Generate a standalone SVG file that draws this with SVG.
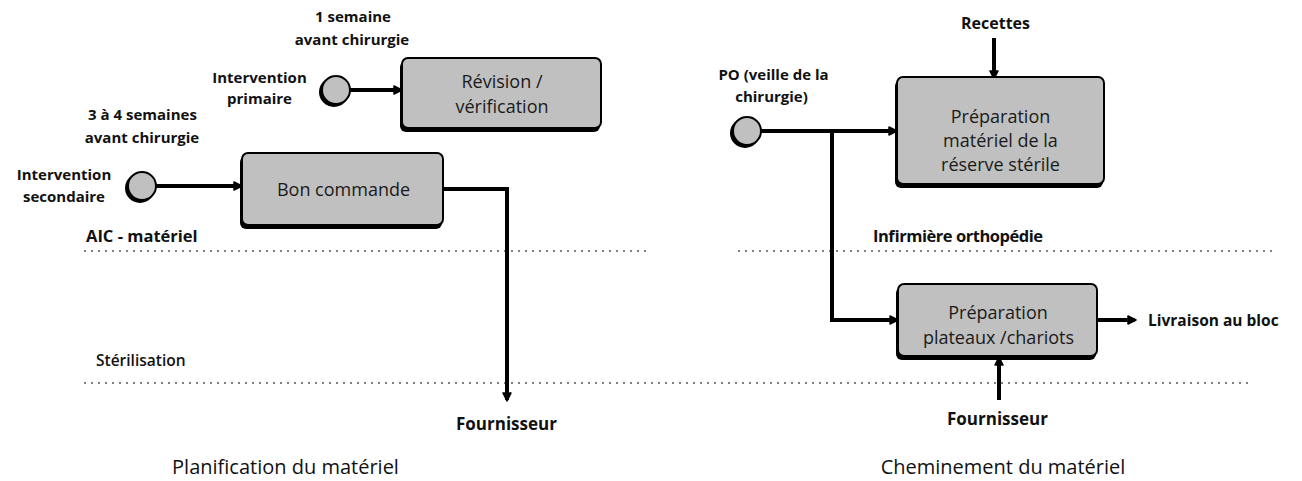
<svg xmlns="http://www.w3.org/2000/svg" width="1302" height="481" viewBox="0 0 1302 481">
  <style>
    .lbl { font-family: "Open Sans", "Liberation Sans", sans-serif; font-weight: bold; font-size: 15px; fill: #111; }
    .lane-lbl { font-family: "Open Sans", "Liberation Sans", sans-serif; font-weight: bold; font-size: 16.5px; fill: #111; }
    .box-txt { font-family: "Open Sans", "Liberation Sans", sans-serif; font-size: 18px; fill: #1a1a1a; }
    .title { font-family: "Open Sans", "Liberation Sans", sans-serif; font-size: 20px; fill: #111; }
    .box { fill: #c0c0c0; stroke: #000; stroke-width: 2; }
    .shadow { fill: #000; }
    .lane { stroke: #555; stroke-width: 1.5; stroke-dasharray: 2 5; fill: none; }
    .flow { stroke: #000; stroke-width: 4; fill: none; marker-end: url(#head); }
  </style>
  <defs>
    <marker id="head" viewBox="0 0 10 10" refX="8" refY="5" markerWidth="10" markerHeight="10" markerUnits="userSpaceOnUse" orient="auto">
      <path d="M1,1 L9,5 L1,9 Z" fill="#000" stroke="#000" stroke-width="1.5" stroke-linejoin="round"/>
    </marker>
  </defs>
  <rect width="1302" height="481" fill="#fff"/>

  <!-- swim-lane separators -->
  <g id="lanes">
    <line class="lane" x1="84" y1="251" x2="649" y2="251"/>
    <line class="lane" x1="738" y1="251" x2="1274" y2="251"/>
    <line class="lane" x1="84" y1="383" x2="1250" y2="383"/>
  </g>

  <!-- lane and section labels -->
  <g id="labels">
    <text class="lane-lbl" x="86" y="242">AIC - matériel</text>
    <text class="lane-lbl" x="96" y="366" style="font-weight:600;font-size:15.5px">Stérilisation</text>
    <text class="lane-lbl" x="873" y="242" textLength="170">Infirmière orthopédie</text>
    <text class="title" x="285.5" y="474" text-anchor="middle">Planification du matériel</text>
    <text class="title" x="1003" y="474" text-anchor="middle">Cheminement du matériel</text>
    <text class="lbl" x="353" y="22" text-anchor="middle">1 semaine</text>
    <text class="lbl" x="352" y="45" text-anchor="middle">avant chirurgie</text>
    <text class="lbl" x="142.5" y="120" text-anchor="middle">3 à 4 semaines</text>
    <text class="lbl" x="142" y="143" text-anchor="middle">avant chirurgie</text>
  </g>

  <!-- connectors -->
  <g id="connectors">
    <path class="flow" d="M350,90 H401"/>
    <path class="flow" d="M156,186 H241"/>
    <path class="flow" d="M443,189 H507 V400"/>
    <path class="flow" d="M994,38 V78"/>
    <path class="flow" d="M761,131 H896"/>
    <path class="flow" d="M832,131 V320 H897"/>
    <path class="flow" d="M1097,320 H1135"/>
    <path class="flow" d="M999,400 V358"/>
  </g>

  <!-- start events -->
  <g id="start-primaire">
    <circle class="shadow" cx="334" cy="92" r="15"/>
    <circle class="box" cx="336" cy="90" r="14"/>
    <text class="lbl" x="259.5" y="83" text-anchor="middle">Intervention</text>
    <text class="lbl" x="259.5" y="104" text-anchor="middle">primaire</text>
  </g>
  <g id="start-secondaire">
    <circle class="shadow" cx="140" cy="188" r="15"/>
    <circle class="box" cx="142" cy="186" r="14"/>
    <text class="lbl" x="64" y="180" text-anchor="middle">Intervention</text>
    <text class="lbl" x="64" y="202" text-anchor="middle">secondaire</text>
  </g>
  <g id="start-po">
    <circle class="shadow" cx="745" cy="133" r="15"/>
    <circle class="box" cx="747" cy="131" r="14"/>
    <text class="lbl" x="773.5" y="80" text-anchor="middle">PO (veille de la</text>
    <text class="lbl" x="771.5" y="102" text-anchor="middle">chirurgie)</text>
  </g>

  <!-- activities -->
  <g id="revision">
    <rect class="shadow" x="400" y="61" width="200" height="71" rx="6"/>
    <rect class="box" x="402" y="58" width="199" height="70" rx="6"/>
    <text class="box-txt" x="502" y="88" text-anchor="middle">Révision /</text>
    <text class="box-txt" x="502" y="113" text-anchor="middle">vérification</text>
  </g>
  <g id="bon-commande">
    <rect class="shadow" x="240" y="156" width="202" height="73" rx="6"/>
    <rect class="box" x="242" y="153" width="201" height="72" rx="6"/>
    <text class="box-txt" x="343.5" y="196" text-anchor="middle">Bon commande</text>
  </g>
  <g id="fournisseur-1">
    <text class="lbl" x="506.5" y="430" text-anchor="middle" style="font-size:17px">Fournisseur</text>
  </g>
  <g id="recettes">
    <text class="lbl" x="995.5" y="29" text-anchor="middle" style="font-size:16px">Recettes</text>
  </g>
  <g id="preparation-reserve">
    <rect class="shadow" x="895" y="80" width="208" height="108" rx="6"/>
    <rect class="box" x="897" y="77" width="207" height="107" rx="6"/>
    <text class="box-txt" x="1000.5" y="123" text-anchor="middle">Préparation</text>
    <text class="box-txt" x="1000.5" y="147" text-anchor="middle">matériel de la</text>
    <text class="box-txt" x="1000.5" y="171" text-anchor="middle">réserve stérile</text>
  </g>
  <g id="preparation-plateaux">
    <rect class="shadow" x="896" y="287" width="200" height="73" rx="6"/>
    <rect class="box" x="898" y="284" width="199" height="72" rx="6"/>
    <text class="box-txt" x="998" y="319" text-anchor="middle">Préparation</text>
    <text class="box-txt" x="998.5" y="344" text-anchor="middle">plateaux /chariots</text>
  </g>
  <g id="livraison">
    <text class="lbl" x="1148" y="326" style="font-size:15.5px">Livraison au bloc</text>
  </g>
  <g id="fournisseur-2">
    <text class="lbl" x="997.5" y="425" text-anchor="middle" style="font-size:17px">Fournisseur</text>
  </g>
</svg>
